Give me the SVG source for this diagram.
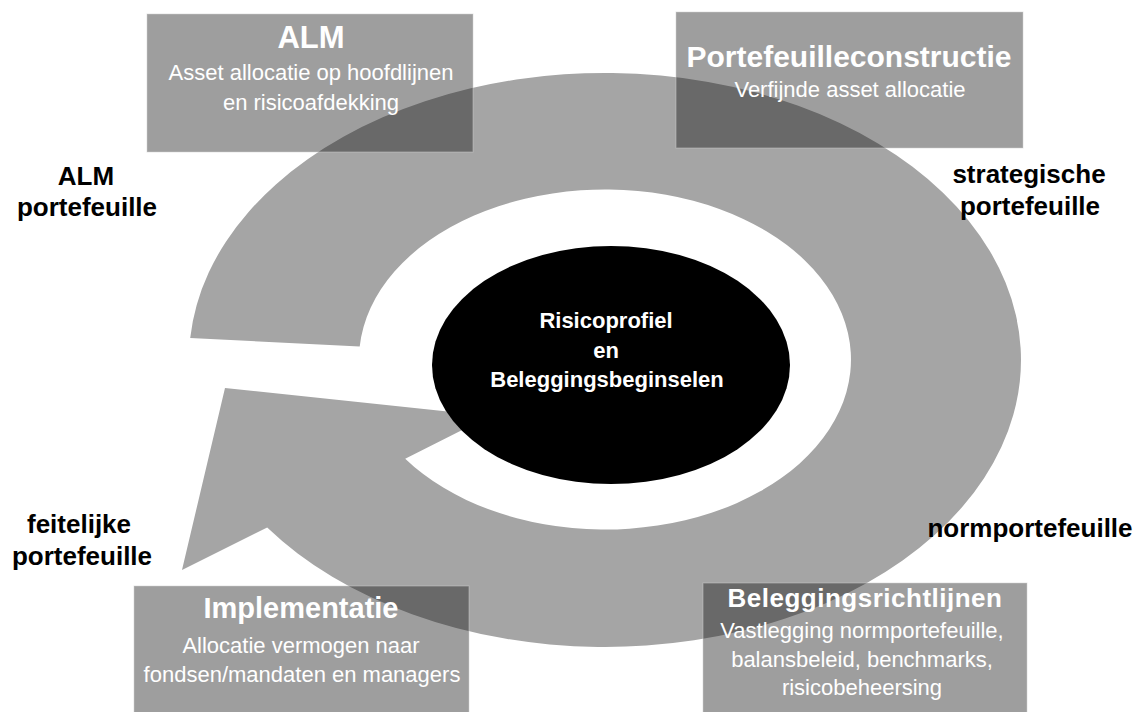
<svg xmlns="http://www.w3.org/2000/svg" width="1138" height="712" viewBox="0 0 1138 712">
<style>
text{font-family:"Liberation Sans",Arial,sans-serif;text-anchor:middle}
.box{fill:#141414;fill-opacity:0.41;stroke:#cfcfcf;stroke-opacity:0.5;stroke-width:1}
.bt{fill:#ffffff;font-weight:bold}
.bs{fill:#ffffff;font-size:22px}
.lbl{fill:#000000;font-weight:bold;font-size:26px}
.ring{fill:#a5a5a5}
</style>
<rect width="1138" height="712" fill="#ffffff"/>
<g id="connectors">
<path class="ring" d="M190.2,338 A416,287 0 1 1 267.2,527.5 L182,570 L225,388 L490,416 L405.2,458.7 A246,170 0 1 0 359.7,346.5 Z"/>
</g>
<g id="node-alm">
<rect class="box" x="147" y="14" width="326" height="138"/>
<text class="bt" x="311" y="48" font-size="31">ALM</text>
<text class="bs" x="311" y="80">Asset allocatie op hoofdlijnen</text>
<text class="bs" x="311" y="110">en risicoafdekking</text>
</g>
<g id="node-portefeuilleconstructie">
<rect class="box" x="676" y="12" width="347" height="136"/>
<text class="bt" x="849" y="67" font-size="30">Portefeuilleconstructie</text>
<text class="bs" x="850" y="97">Verfijnde asset allocatie</text>
</g>
<g id="node-implementatie">
<rect class="box" x="134" y="586" width="335" height="130"/>
<text class="bt" x="301" y="618" font-size="29">Implementatie</text>
<text class="bs" x="301" y="653">Allocatie vermogen naar</text>
<text class="bs" x="302" y="682">fondsen/mandaten en managers</text>
</g>
<g id="node-beleggingsrichtlijnen">
<rect class="box" x="703" y="583" width="324" height="133"/>
<text class="bt" x="865" y="607" font-size="26" letter-spacing="0.5">Beleggingsrichtlijnen</text>
<text class="bs" x="862" y="638" font-size="23">Vastlegging normportefeuille,</text>
<text class="bs" x="862" y="667" font-size="23">balansbeleid, benchmarks,</text>
<text class="bs" x="862" y="695" font-size="23">risicobeheersing</text>
</g>
<g id="node-center">
<ellipse cx="611" cy="365" rx="179" ry="119" fill="#000000"/>
<text class="bt" x="606" y="328" font-size="22">Risicoprofiel</text>
<text class="bt" x="606" y="358" font-size="22">en</text>
<text class="bt" x="607" y="387" font-size="22">Beleggingsbeginselen</text>
</g>
<g id="label-alm-portefeuille">
<text class="lbl" x="86" y="185">ALM</text>
<text class="lbl" x="87" y="216">portefeuille</text>
</g>
<g id="label-strategische">
<text class="lbl" x="1029" y="183">strategische</text>
<text class="lbl" x="1030" y="215">portefeuille</text>
</g>
<g id="label-normportefeuille">
<text class="lbl" x="1030" y="537">normportefeuille</text>
</g>
<g id="label-feitelijke">
<text class="lbl" x="79" y="533">feitelijke</text>
<text class="lbl" x="82" y="565">portefeuille</text>
</g>
</svg>
